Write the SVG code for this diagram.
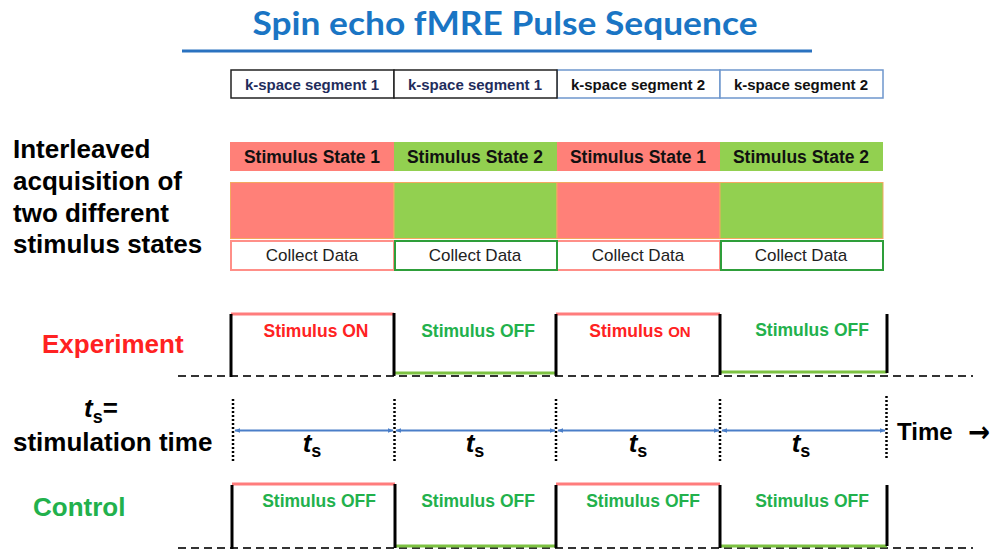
<svg xmlns="http://www.w3.org/2000/svg" width="997" height="549" viewBox="0 0 997 549">
  <style>
    .lbl { font-family: "Liberation Sans", Arial, sans-serif; font-weight: bold; font-size: 26px; fill: #000; }
    .ks { font-family: "Liberation Sans", Arial, sans-serif; font-weight: bold; font-size: 15px; text-anchor: middle; }
    .st { font-family: "Liberation Sans", Arial, sans-serif; font-weight: bold; font-size: 17.5px; text-anchor: middle; fill: #111; }
    .cd { font-family: "Liberation Sans", Arial, sans-serif; font-size: 17px; text-anchor: middle; fill: #222; }
    .on { font-family: "Liberation Sans", Arial, sans-serif; font-weight: bold; font-size: 17.5px; text-anchor: middle; fill: #ff2222; }
    .off { font-family: "Liberation Sans", Arial, sans-serif; font-weight: bold; font-size: 17.5px; text-anchor: middle; fill: #22b14c; }
    .ts { font-family: "Liberation Sans", Arial, sans-serif; font-weight: bold; font-size: 26px; text-anchor: middle; fill: #000; }
    .red { fill: #ff8078; }
    .grn { fill: #92d050; }
    .edge { stroke: #000; stroke-width: 3; fill: none; }
    .hiR { stroke: #ff7c7c; stroke-width: 3; fill: none; }
    .loG { stroke: #7dc242; stroke-width: 3; fill: none; }
    .dash { stroke: #333; stroke-width: 2; stroke-dasharray: 8 5; fill: none; }
    .dot { stroke: #000; stroke-width: 2.5; stroke-dasharray: 2 2; fill: none; }
    .span { stroke: #4a7ec8; stroke-width: 2; fill: none; marker-start: url(#ah); marker-end: url(#ah); }
  </style>
  <defs>
    <marker id="ah" viewBox="0 0 10 10" refX="9" refY="5" markerWidth="6" markerHeight="6" orient="auto-start-reverse" markerUnits="userSpaceOnUse">
      <path d="M0,1 L10,5 L0,9 z" fill="#4a7ec8"/>
    </marker>
  </defs>

  <rect width="997" height="549" fill="#fff"/>

  <!-- title -->
  <g id="title">
    <text x="505" y="35" text-anchor="middle" font-family="Lato, 'Open Sans', sans-serif" font-weight="bold" font-size="33" fill="#1a75c4" textLength="505" lengthAdjust="spacingAndGlyphs">Spin echo fMRE Pulse Sequence</text>
    <line x1="182" y1="51" x2="812" y2="51" stroke="#2a72c0" stroke-width="3"/>
  </g>

  <!-- k-space segments -->
  <g id="kspace">
    <rect x="557" y="70" width="163" height="28" fill="#fff" stroke="#6e96cd" stroke-width="1.5"/>
    <rect x="720" y="70" width="163" height="28" fill="#fff" stroke="#6e96cd" stroke-width="1.5"/>
    <rect x="231" y="70" width="163" height="28" fill="#fff" stroke="#222" stroke-width="1.5"/>
    <rect x="394" y="70" width="163" height="28" fill="#fff" stroke="#222" stroke-width="1.5"/>
    <text class="ks" x="312" y="90" fill="#1f2d5c">k-space segment 1</text>
    <text class="ks" x="475" y="90" fill="#1f2d5c">k-space segment 1</text>
    <text class="ks" x="638" y="90" fill="#111">k-space segment 2</text>
    <text class="ks" x="801" y="90" fill="#111">k-space segment 2</text>
  </g>

  <!-- left description -->
  <g id="desc">
    <text class="lbl" x="13" y="158">Interleaved</text>
    <text class="lbl" x="13" y="190">acquisition of</text>
    <text class="lbl" x="13" y="222">two different</text>
    <text class="lbl" x="13" y="253">stimulus states</text>
  </g>

  <!-- stimulus state row -->
  <g id="states">
    <rect class="red" x="230" y="142" width="164" height="29"/>
    <rect class="grn" x="394" y="142" width="163" height="29"/>
    <rect class="red" x="557" y="142" width="163" height="29"/>
    <rect class="grn" x="720" y="142" width="163" height="29"/>
    <text class="st" x="312" y="163">Stimulus State 1</text>
    <text class="st" x="475" y="163">Stimulus State 2</text>
    <text class="st" x="638" y="163">Stimulus State 1</text>
    <text class="st" x="801" y="163">Stimulus State 2</text>
  </g>

  <!-- acquisition blocks -->
  <g id="blocks">
    <rect class="red" x="230.5" y="182.5" width="163.5" height="56" stroke="#f4a860" stroke-width="1"/>
    <rect class="grn" x="394" y="182.5" width="163" height="56" stroke="#f4a860" stroke-width="1"/>
    <rect class="red" x="557" y="182.5" width="163" height="56" stroke="#f4a860" stroke-width="1"/>
    <rect class="grn" x="720" y="182.5" width="163" height="56" stroke="#f4a860" stroke-width="1"/>
  </g>

  <!-- collect data row -->
  <g id="collect">
    <rect x="231" y="241" width="163" height="29" fill="#fff" stroke="#ff8f88" stroke-width="2"/>
    <rect x="557" y="241" width="163" height="29" fill="#fff" stroke="#ff8f88" stroke-width="2"/>
    <rect x="395" y="241" width="162" height="29" fill="#fff" stroke="#2e9e3a" stroke-width="2"/>
    <rect x="721" y="241" width="162" height="29" fill="#fff" stroke="#2e9e3a" stroke-width="2"/>
    <text class="cd" x="312" y="261">Collect Data</text>
    <text class="cd" x="475" y="261">Collect Data</text>
    <text class="cd" x="638" y="261">Collect Data</text>
    <text class="cd" x="801" y="261">Collect Data</text>
  </g>

  <!-- experiment waveform -->
  <g id="experiment">
    <text class="lbl" x="42" y="353" style="fill:#ff2222">Experiment</text>
    <line class="dash" x1="178" y1="376" x2="973" y2="376"/>
    <line class="hiR" x1="231" y1="314" x2="394" y2="314"/>
    <line class="hiR" x1="556" y1="314" x2="720" y2="314"/>
    <line class="loG" x1="394" y1="373" x2="556" y2="373"/>
    <line class="loG" x1="720" y1="372" x2="887" y2="372"/>
    <line class="edge" x1="231" y1="314" x2="231" y2="377"/>
    <line class="edge" x1="394" y1="313" x2="394" y2="376"/>
    <line class="edge" x1="556" y1="314" x2="556" y2="376"/>
    <line class="edge" x1="720" y1="314" x2="720" y2="375"/>
    <line class="edge" x1="887" y1="314" x2="887" y2="373"/>
    <text class="on" x="316" y="337">Stimulus ON</text>
    <text class="off" x="478" y="337">Stimulus OFF</text>
    <text class="on" x="640" y="337">Stimulus <tspan font-size="15">ON</tspan></text>
    <text class="off" x="812" y="336">Stimulus OFF</text>
  </g>

  <!-- time axis -->
  <g id="timeaxis">
    <text class="lbl" x="101" y="417" text-anchor="middle"><tspan font-style="italic">t</tspan><tspan font-size="18" dy="6">s</tspan><tspan dy="-6">=</tspan></text>
    <text class="lbl" x="13" y="451">stimulation time</text>
    <line class="dot" x1="233" y1="399" x2="233" y2="462"/>
    <line class="dot" x1="394.5" y1="399" x2="394.5" y2="462"/>
    <line class="dot" x1="556" y1="399" x2="556" y2="462"/>
    <line class="dot" x1="720" y1="399" x2="720" y2="462"/>
    <line class="dot" x1="886.5" y1="396" x2="886.5" y2="460"/>
    <text class="lbl" x="897" y="440" style="font-size:24px">Time</text>
    <text x="968" y="442" font-family="'DejaVu Sans', sans-serif" font-weight="bold" font-size="29" fill="#000" textLength="22" lengthAdjust="spacingAndGlyphs">→</text>
  </g>

  <!-- stimulation time spans -->
  <g id="connectors">
    <line class="span" x1="235" y1="430.5" x2="393" y2="430.5"/>
    <line class="span" x1="396" y1="430.5" x2="555" y2="430.5"/>
    <line class="span" x1="558" y1="430.5" x2="719" y2="430.5"/>
    <line class="span" x1="722" y1="430.5" x2="885" y2="430.5"/>
  </g>
  <g id="spanlabels">
    <text class="ts" x="312" y="452"><tspan font-style="italic">t</tspan><tspan font-size="18" dy="5">s</tspan></text>
    <text class="ts" x="475" y="452"><tspan font-style="italic">t</tspan><tspan font-size="18" dy="5">s</tspan></text>
    <text class="ts" x="638" y="452"><tspan font-style="italic">t</tspan><tspan font-size="18" dy="5">s</tspan></text>
    <text class="ts" x="801" y="452"><tspan font-style="italic">t</tspan><tspan font-size="18" dy="5">s</tspan></text>
  </g>

  <!-- control waveform -->
  <g id="control">
    <text class="lbl" x="33" y="516" style="fill:#22b14c">Control</text>
    <line class="dash" x1="178" y1="548" x2="973" y2="548"/>
    <line class="hiR" x1="232" y1="484" x2="395" y2="484"/>
    <line class="hiR" x1="556" y1="484" x2="720" y2="484"/>
    <line class="loG" x1="395" y1="546" x2="556" y2="546"/>
    <line class="loG" x1="720" y1="546" x2="887" y2="546"/>
    <line class="edge" x1="232" y1="485" x2="232" y2="549"/>
    <line class="edge" x1="395" y1="484" x2="395" y2="548"/>
    <line class="edge" x1="556" y1="485" x2="556" y2="548"/>
    <line class="edge" x1="720" y1="485" x2="720" y2="548"/>
    <line class="edge" x1="887" y1="485" x2="887" y2="546"/>
    <text class="off" x="319" y="507">Stimulus OFF</text>
    <text class="off" x="478" y="507">Stimulus OFF</text>
    <text class="off" x="643" y="507">Stimulus OFF</text>
    <text class="off" x="812" y="507">Stimulus OFF</text>
  </g>
</svg>
